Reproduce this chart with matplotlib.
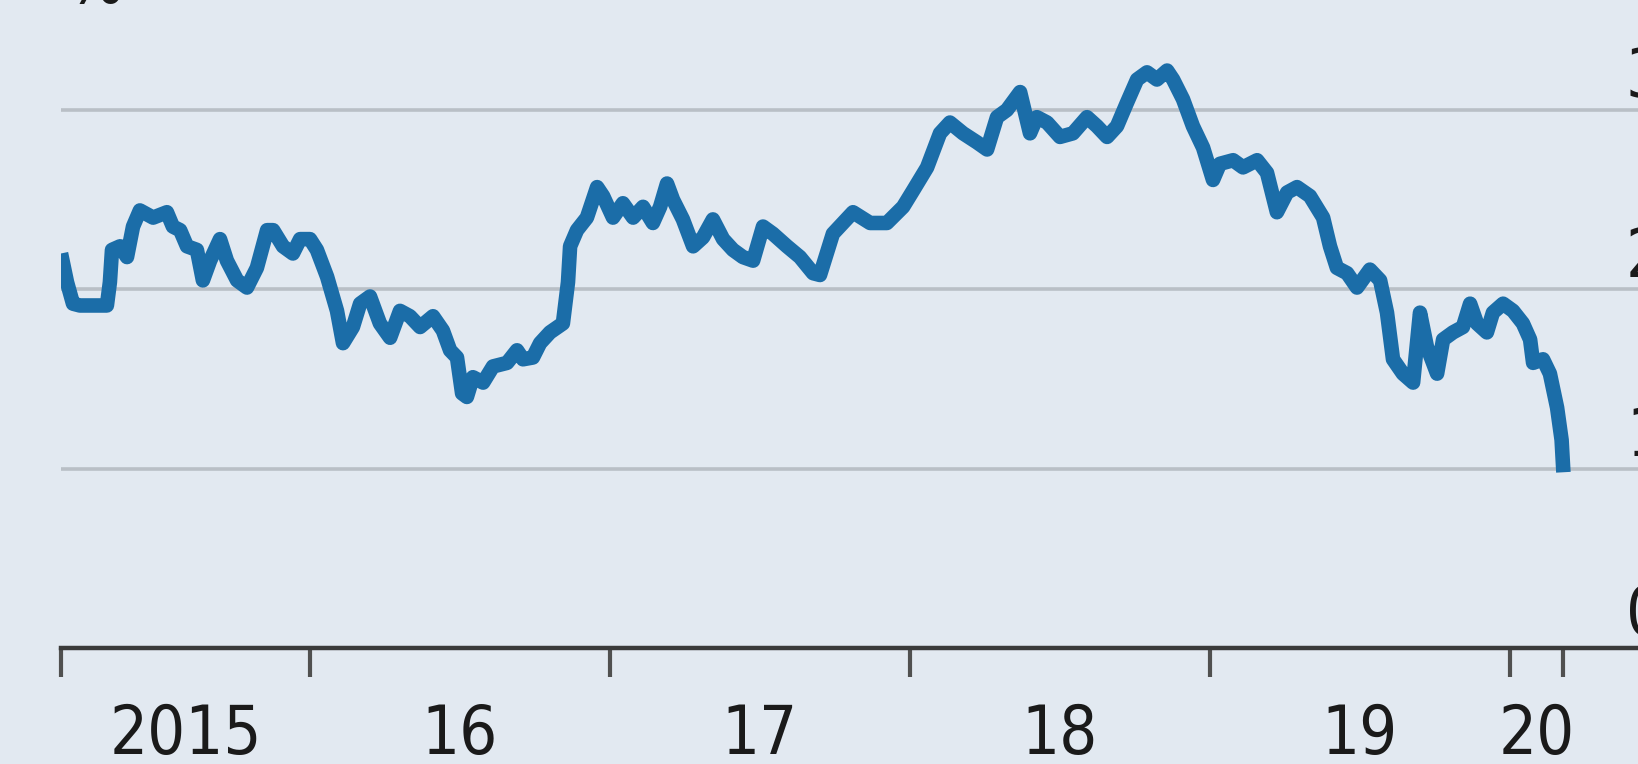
import matplotlib
matplotlib.use("Agg")
import matplotlib.pyplot as plt
from matplotlib import font_manager
import numpy as np

# 10-year yield, % -- time as decimal years
t = [2015.17, 2015.19, 2015.21, 2015.233, 2015.323, 2015.333, 2015.34, 2015.367, 2015.39, 2015.41,
     2015.433, 2015.477, 2015.523, 2015.543, 2015.567, 2015.59, 2015.623, 2015.643, 2015.667, 2015.70,
     2015.723, 2015.757, 2015.79, 2015.823, 2015.857, 2015.877, 2015.91, 2015.943, 2015.967, 2016.0,
     2016.023, 2016.057, 2016.09, 2016.11, 2016.143, 2016.167, 2016.20, 2016.233, 2016.267, 2016.30,
     2016.333, 2016.367, 2016.41, 2016.443, 2016.467, 2016.49, 2016.507, 2016.523, 2016.543, 2016.577,
     2016.61, 2016.657, 2016.69, 2016.71, 2016.743, 2016.767, 2016.80, 2016.843, 2016.86, 2016.867,
     2016.89, 2016.923, 2016.957, 2016.977, 2017.01, 2017.043, 2017.077, 2017.11, 2017.143, 2017.167,
     2017.19, 2017.21, 2017.243, 2017.277, 2017.31, 2017.343, 2017.377, 2017.41, 2017.443, 2017.477,
     2017.51, 2017.543, 2017.59, 2017.633, 2017.677, 2017.70, 2017.743, 2017.81, 2017.867, 2017.923,
     2017.977, 2018.01, 2018.057, 2018.10, 2018.133, 2018.177, 2018.223, 2018.257, 2018.29, 2018.323,
     2018.367, 2018.40, 2018.423, 2018.457, 2018.50, 2018.543, 2018.59, 2018.623, 2018.657, 2018.69,
     2018.723, 2018.757, 2018.79, 2018.823, 2018.857, 2018.877, 2018.91, 2018.943, 2018.977, 2019.01,
     2019.033, 2019.077, 2019.11, 2019.157, 2019.19, 2019.223, 2019.257, 2019.29, 2019.333, 2019.377,
     2019.40, 2019.423, 2019.457, 2019.49, 2019.533, 2019.567, 2019.59, 2019.61, 2019.643, 2019.677,
     2019.70, 2019.723, 2019.757, 2019.777, 2019.81, 2019.843, 2019.867, 2019.89, 2019.923, 2019.943,
     2019.977, 2020.01, 2020.043, 2020.067, 2020.077, 2020.11, 2020.133, 2020.157, 2020.172, 2020.178]
yld = [2.20, 2.04, 1.92, 1.91, 1.91, 2.04, 2.22, 2.24, 2.18, 2.35,
       2.44, 2.40, 2.43, 2.35, 2.33, 2.24, 2.22, 2.05, 2.16, 2.28,
       2.16, 2.05, 2.01, 2.12, 2.33, 2.33, 2.24, 2.20, 2.28, 2.28,
       2.22, 2.07, 1.88, 1.70, 1.79, 1.92, 1.96, 1.81, 1.73, 1.88,
       1.85, 1.79, 1.85, 1.77, 1.66, 1.62, 1.42, 1.40, 1.51, 1.48,
       1.57, 1.59, 1.66, 1.61, 1.62, 1.70, 1.76, 1.81, 2.04, 2.24,
       2.33, 2.40, 2.57, 2.52, 2.40, 2.48, 2.40, 2.46, 2.37, 2.46,
       2.59, 2.50, 2.39, 2.24, 2.29, 2.39, 2.28, 2.22, 2.18, 2.16,
       2.35, 2.31, 2.24, 2.18, 2.09, 2.08, 2.31, 2.43, 2.37, 2.37,
       2.46, 2.55, 2.68, 2.87, 2.93, 2.87, 2.82, 2.78, 2.96, 3.00,
       3.10, 2.87, 2.96, 2.93, 2.85, 2.87, 2.96, 2.91, 2.85, 2.91,
       3.04, 3.17, 3.21, 3.17, 3.22, 3.17, 3.06, 2.91, 2.79, 2.61,
       2.70, 2.72, 2.68, 2.72, 2.65, 2.43, 2.54, 2.57, 2.52, 2.40,
       2.24, 2.12, 2.09, 2.01, 2.11, 2.05, 1.87, 1.61, 1.53, 1.48,
       1.87, 1.68, 1.53, 1.72, 1.76, 1.79, 1.92, 1.81, 1.76, 1.87,
       1.92, 1.88, 1.81, 1.72, 1.59, 1.61, 1.53, 1.34, 1.16, 0.98]

year_ticks = [2015.17, 2016, 2017, 2018, 2019, 2020, 2020.178]
year_labels = ["2015", "16", "17", "18", "19", "20"]
y_ticks = [0, 1, 2, 3]

bg = "#E2E9F1"
blue = "#1B6DA8"

# look for a narrow font; fall back to plain DejaVu Sans
fp = None
for f in font_manager.fontManager.ttflist:
    if f.style != "normal" or f.weight not in (400, "normal", "regular"):
        continue
    if "Narrow" in f.name or "Condensed" in f.name or f.stretch in ("condensed", "semi-condensed"):
        if "Mono" in f.name or "Serif" in f.name:
            continue
        fp = font_manager.FontProperties(fname=f.fname)
        break
if fp is None:
    fp = font_manager.FontProperties(family="DejaVu Sans")
    fsize = 44
else:
    fsize = 48

W, H = 1638, 764
fig = plt.figure(figsize=(W / 100, H / 100), dpi=100, facecolor=bg)
ax = fig.add_axes([61 / W, 116 / H, 1 - 61 / W, 1 - 116 / H])
ax.set_facecolor(bg)

ax.set_xlim(2015.17, 2016 + (W - 310) / 300)
ax.set_ylim(0, 648 / 179.33)

# gridlines
for v in y_ticks[1:]:
    ax.axhline(v, color="#B9BFC6", lw=2.6, zorder=1)

ax.plot(t, yld, color=blue, lw=10.5, solid_joinstyle="round", solid_capstyle="butt", zorder=3)

for s in ["left", "right", "top"]:
    ax.spines[s].set_visible(False)
ax.spines["bottom"].set_color("#3A3A3A")
ax.spines["bottom"].set_linewidth(3.2)
ax.spines["bottom"].set_zorder(4)

ax.set_yticks([])
ax.set_xticks(year_ticks)
ax.set_xticklabels([])
ax.tick_params(axis="x", direction="out", length=21, width=3.0, color="#505050")

# year labels centred between ticks
for i, lab in enumerate(year_labels):
    mid = (year_ticks[i] + year_ticks[i + 1]) / 2
    ax.text(mid, -0.59, lab, ha="center", va="baseline", fontsize=fsize,
            fontproperties=fp, color="#1A1A1A", clip_on=False)

# y labels on the right, sitting above the gridlines
xr = 2016 + (1626 - 310) / 300
for v in y_ticks:
    ax.text(xr, v + 0.07, str(v), ha="left", va="baseline", fontsize=fsize,
            fontproperties=fp, color="#1A1A1A", clip_on=False)

# units label cut off at the top
fig.text(67 / W, 1 - 3 / H, "%", ha="left", va="baseline", fontsize=fsize,
         fontproperties=fp, color="#1A1A1A")

fig.savefig("out.png", dpi=100, facecolor=bg)
